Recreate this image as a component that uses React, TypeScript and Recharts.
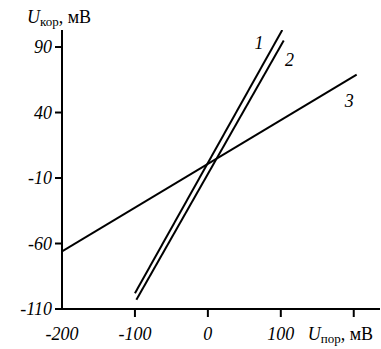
import React from 'react';
import { LineChart, Line, XAxis, YAxis, ReferenceDot } from 'recharts';

const line1 = [
  { x: -100, y: -98 },
  { x: 102, y: 103 },
];
const line2 = [
  { x: -98, y: -103 },
  { x: 104, y: 95 },
];
const line3 = [
  { x: -200, y: -66 },
  { x: 204, y: 69 },
];
const xTicks = [-200, -100, 0, 100, 200];
const yTicks = [90, 40, -10, -60, -110];
const curveLabels = [
  { x: 70, y: 93, text: '1' },
  { x: 112, y: 80, text: '2' },
  { x: 194, y: 49, text: '3' },
];

const FONT = '"Liberation Serif", "Times New Roman", serif';

const XTick = (props: any) => {
  const { x, y, payload } = props;
  const axisY = y - 18;
  const v = payload.value;
  return (
    <g>
      {v !== -200 && (
        <line x1={x} x2={x} y1={axisY} y2={axisY + 8} stroke="#000" strokeWidth={2} />
      )}
      {v === 200 ? (
        <text x={x - 46} y={axisY + 31} fontFamily={FONT} fontSize={18} fill="#000">
          <tspan fontStyle="italic">U</tspan>
          <tspan fontSize={13} dy={3}>пор</tspan>
          <tspan dy={-3}>, мВ</tspan>
        </text>
      ) : (
        <text x={x} y={axisY + 31} textAnchor="middle" fontFamily={FONT} fontSize={18} fontStyle="italic" fill="#000">
          {v}
        </text>
      )}
    </g>
  );
};

const YLabel = (props: any) => {
  const vb = props.viewBox || { x: 0, y: 30 };
  return (
    <text x={27} y={vb.y - 7} fontFamily={FONT} fontSize={18} fill="#000">
      <tspan fontStyle="italic">U</tspan>
      <tspan fontSize={13} dy={3}>кор</tspan>
      <tspan dy={-3}>, мВ</tspan>
    </text>
  );
};

export default function App() {
  return (
    <div style={{ position: 'absolute', left: 0, top: 0, background: '#fff' }}>
      <LineChart width={381} height={349} margin={{ top: 30, right: 1, bottom: 10, left: 0 }}>
        <XAxis
          type="number"
          dataKey="x"
          domain={[-200, 236]}
          ticks={xTicks}
          interval={0}
          height={30}
          axisLine={{ stroke: '#000', strokeWidth: 2 }}
          tickLine={false}
          tickSize={8}
          tickMargin={10}
          tick={<XTick />}
          allowDataOverflow
        />
        <YAxis
          type="number"
          dataKey="y"
          domain={[-110, 103]}
          ticks={yTicks}
          interval={0}
          width={62}
          axisLine={{ stroke: '#000', strokeWidth: 2 }}
          tickLine={{ stroke: '#000', strokeWidth: 2 }}
          tickSize={7}
          tickMargin={3}
          tick={{ fill: '#000', fontSize: 18, fontStyle: 'italic', fontFamily: FONT }}
          label={<YLabel />}
          allowDataOverflow
        />
        <Line data={line1} dataKey="y" stroke="#000" strokeWidth={2} dot={false} isAnimationActive={false} />
        <Line data={line2} dataKey="y" stroke="#000" strokeWidth={2} dot={false} isAnimationActive={false} />
        <Line data={line3} dataKey="y" stroke="#000" strokeWidth={2} dot={false} isAnimationActive={false} />
        {curveLabels.map((c) => (
          <ReferenceDot
            key={c.text}
            x={c.x}
            y={c.y}
            r={0}
            ifOverflow="visible"
            shape={(p: any) => (
              <text x={p.cx} y={p.cy} textAnchor="middle" dominantBaseline="central" fontFamily={FONT} fontSize={18} fontStyle="italic" fill="#000">
                {c.text}
              </text>
            )}
          />
        ))}
      </LineChart>
    </div>
  );
}
